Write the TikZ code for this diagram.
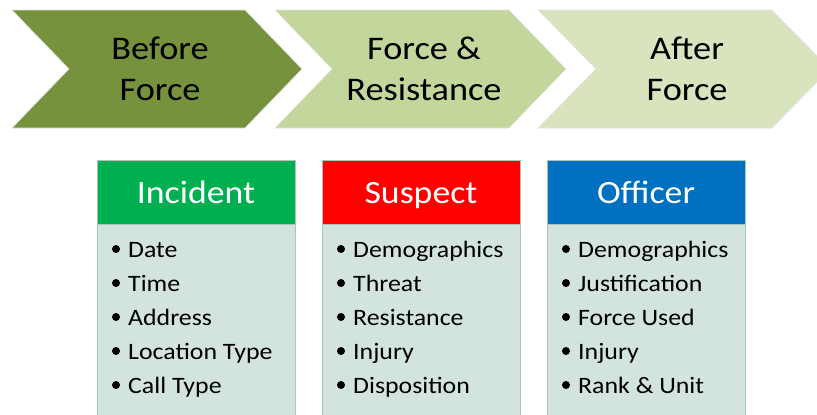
\documentclass[tikz,border=0pt]{standalone}
\usepackage{fontspec}
\setmainfont{Carlito}[FakeStretch=1.1]
\usepackage{tikz}
\usetikzlibrary{positioning}

\definecolor{oliveDark}{HTML}{76923C}
\definecolor{oliveMid}{HTML}{C3D69B}
\definecolor{oliveLight}{HTML}{D7E4BD}
\definecolor{incGreen}{HTML}{00B050}
\definecolor{susRed}{HTML}{FF0000}
\definecolor{offBlue}{HTML}{0070C0}
\definecolor{bodyGray}{HTML}{D2E4DD}
\definecolor{boxEdge}{HTML}{A8C6BC}

\tikzset{
  chevtext/.style={align=center, font=\fontsize{33}{41}\selectfont, text=black},
  headtext/.style={anchor=base, inner sep=0pt, font=\fontsize{32.5}{40}\selectfont, text=white},
  itemtext/.style={anchor=base west, inner sep=0pt, font=\fontsize{23.5}{28}\selectfont},
}

\begin{document}
\begin{tikzpicture}[x=1pt, y=-1pt]
    \useasboundingbox (0,0) rectangle (817,415);
    \clip (0,0) rectangle (817,415);

    % Chevrons
    \fill[oliveDark, draw=gray!20, line width=0.6pt] (12,10) -- (245,10) -- (302,69) -- (245,128) -- (12,128) -- (69,69) -- cycle;
    \fill[oliveMid, draw=gray!20, line width=0.6pt] (275,10) -- (509,10) -- (566,69) -- (509,128) -- (275,128) -- (332,69) -- cycle;
    \fill[oliveLight, draw=gray!20, line width=0.6pt] (538,10) -- (772,10) -- (830,69) -- (772,128) -- (538,128) -- (596,69) -- cycle;
    \node[chevtext] (before) at (160,69) {Before\\Force};
    \node[chevtext] (resist) at (424,69) {Force \&\\Resistance};
    \node[chevtext] (after) at (687,69) {After\\Force};

    % Boxes
    \foreach \x/\col/\name/\title in {97/incGreen/inc/Incident, 322/susRed/sus/Suspect, 547/offBlue/off/Officer} {
        \fill[bodyGray, draw=boxEdge, line width=0.6pt] (\x,224) rectangle ++(198,200);
        \fill[\col, draw=boxEdge, line width=0.6pt] (\x,160) rectangle ++(198,64);
        \node[headtext] (\name) at (\x+99,203) {\title};
    }

    % Lists (bullet dots drawn beside each item)
    \foreach \item [count=\i] in {Date, Time, Address, Location Type, Call Type} {
        \fill (116,215+34*\i) circle (4);
        \node[itemtext] (inc-\i) at (128,223+34*\i) {\item};
    }
    \foreach \item [count=\i] in {Demographics, Threat, Resistance, Injury, Disposition} {
        \fill (341,215+34*\i) circle (4);
        \node[itemtext] (sus-\i) at (353,223+34*\i) {\item};
    }
    \foreach \item [count=\i] in {Demographics, Justification, Force Used, Injury, Rank \& Unit} {
        \fill (566,215+34*\i) circle (4);
        \node[itemtext] (off-\i) at (578,223+34*\i) {\item};
    }
\end{tikzpicture}
\end{document}
